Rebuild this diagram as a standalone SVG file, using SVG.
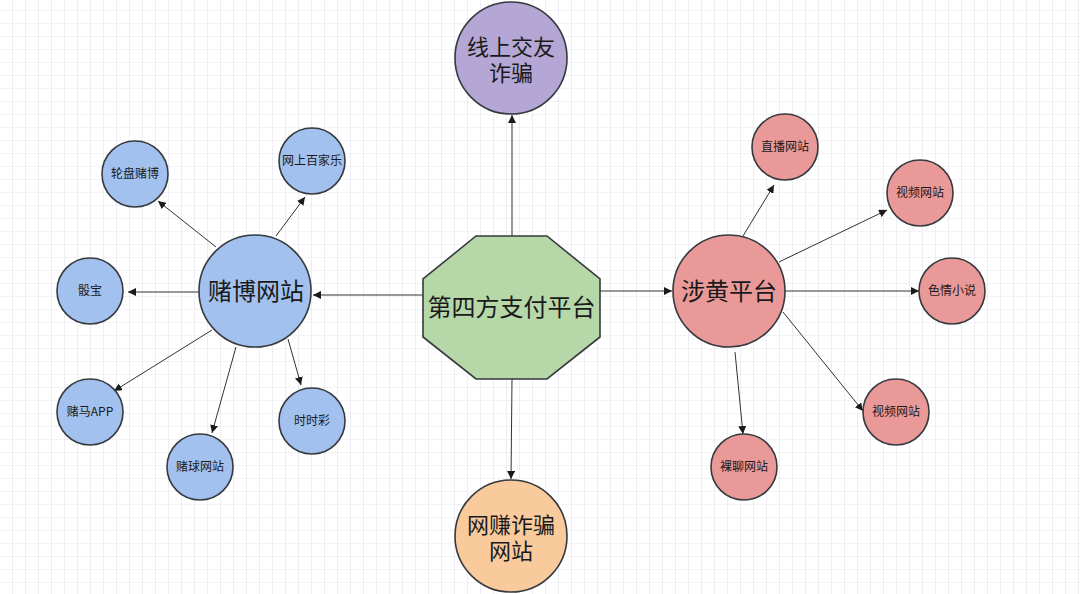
<svg xmlns="http://www.w3.org/2000/svg" width="1080" height="594" viewBox="0 0 1080 594">
<defs>
<pattern id="grid" x="12" y="10" width="13" height="13" patternUnits="userSpaceOnUse">
<path d="M0 0V13" stroke="#dcdce8" stroke-width="1" fill="none"/>
<path d="M0 0H13" stroke="#e6e6f0" stroke-width="1" fill="none"/>
</pattern>
<marker id="arr" viewBox="0 0 10 10" refX="10" refY="5" markerWidth="8" markerHeight="8" markerUnits="userSpaceOnUse" orient="auto">
<path d="M0 0L10 5L0 10z" fill="#1a1a1a"/>
</marker>
<style>
.n{stroke:#36393d;stroke-width:1.6}
.blue{fill:#a2c1ee}
.pink{fill:#ea9999}
.purple{fill:#b4a7d6}
.orange{fill:#f9cb9c}
.green{fill:#b6d7a8}
.t{font-family:"Noto Sans CJK SC","Noto Sans",sans-serif;fill:#1a1a1a;text-anchor:middle}
.t2{font-family:"Liberation Sans","Noto Sans CJK SC",sans-serif;fill:#1a1a1a;text-anchor:middle;font-size:22px}
.s{font-size:12px}
.b{font-size:24px}
#edges line{stroke:#333;stroke-width:1;marker-end:url(#arr)}
</style>
</defs>
<rect width="1080" height="594" fill="#ffffff"/>
<rect width="1080" height="594" fill="url(#grid)"/>
<g id="edges">
<line x1="512" y1="236" x2="512" y2="115"/>
<line x1="512" y1="379" x2="511" y2="479"/>
<line x1="423" y1="295" x2="313" y2="295"/>
<line x1="600" y1="291" x2="672" y2="291"/>
<line x1="216" y1="247" x2="158" y2="201"/>
<line x1="276" y1="236" x2="305" y2="197"/>
<line x1="199" y1="292" x2="128" y2="292"/>
<line x1="212" y1="330" x2="114" y2="391"/>
<line x1="236" y1="347" x2="212" y2="433"/>
<line x1="288" y1="339" x2="301" y2="385"/>
<line x1="743" y1="236" x2="774" y2="185"/>
<line x1="779" y1="262" x2="887" y2="210"/>
<line x1="785" y1="291" x2="919" y2="291"/>
<line x1="783" y1="312" x2="863" y2="411"/>
<line x1="735" y1="352" x2="743" y2="434"/>
</g>
<g id="center">
<polygon class="n green" points="476,236 547,236 600,279 600,337 547,379 476,379 423,337 423,279"/>
<text class="t b" x="511.5" y="316">第四方支付平台</text>
</g>
<g id="online-dating">
<circle class="n purple" cx="511" cy="58" r="56"/>
<text class="t2" x="511" y="55">线上交友</text>
<text class="t2" x="511" y="81">诈骗</text>
</g>
<g id="online-earning">
<circle class="n orange" cx="511" cy="536" r="56"/>
<text class="t2" x="511" y="533">网赚诈骗</text>
<text class="t2" x="511" y="559">网站</text>
</g>
<g id="gambling">
<circle class="n blue" cx="255" cy="291" r="56"/>
<text class="t b" x="256" y="300">赌博网站</text>
</g>
<g id="roulette">
<circle class="n blue" cx="135" cy="174" r="33"/>
<text class="t s" x="135" y="178">轮盘赌博</text>
</g>
<g id="baccarat">
<circle class="n blue" cx="312" cy="161" r="33"/>
<text class="t s" x="312" y="165">网上百家乐</text>
</g>
<g id="sicbo">
<circle class="n blue" cx="90" cy="291" r="33"/>
<text class="t s" x="90" y="295">骰宝</text>
</g>
<g id="horse">
<circle class="n blue" cx="90" cy="412" r="33"/>
<text class="t s" x="90" y="416">赌马APP</text>
</g>
<g id="football">
<circle class="n blue" cx="200" cy="467" r="33"/>
<text class="t s" x="200" y="471">赌球网站</text>
</g>
<g id="lottery">
<circle class="n blue" cx="312" cy="421" r="33"/>
<text class="t s" x="312" y="425">时时彩</text>
</g>
<g id="porn">
<circle class="n pink" cx="729" cy="291" r="56"/>
<text class="t b" x="729" y="300">涉黄平台</text>
</g>
<g id="live">
<circle class="n pink" cx="785" cy="147" r="33"/>
<text class="t s" x="785" y="151">直播网站</text>
</g>
<g id="video1">
<circle class="n pink" cx="920" cy="193" r="33"/>
<text class="t s" x="920" y="197">视频网站</text>
</g>
<g id="novel">
<circle class="n pink" cx="952" cy="291" r="33"/>
<text class="t s" x="952" y="295">色情小说</text>
</g>
<g id="video2">
<circle class="n pink" cx="896" cy="412" r="33"/>
<text class="t s" x="896" y="416">视频网站</text>
</g>
<g id="chat">
<circle class="n pink" cx="744" cy="467" r="33"/>
<text class="t s" x="744" y="471">裸聊网站</text>
</g>
</svg>
